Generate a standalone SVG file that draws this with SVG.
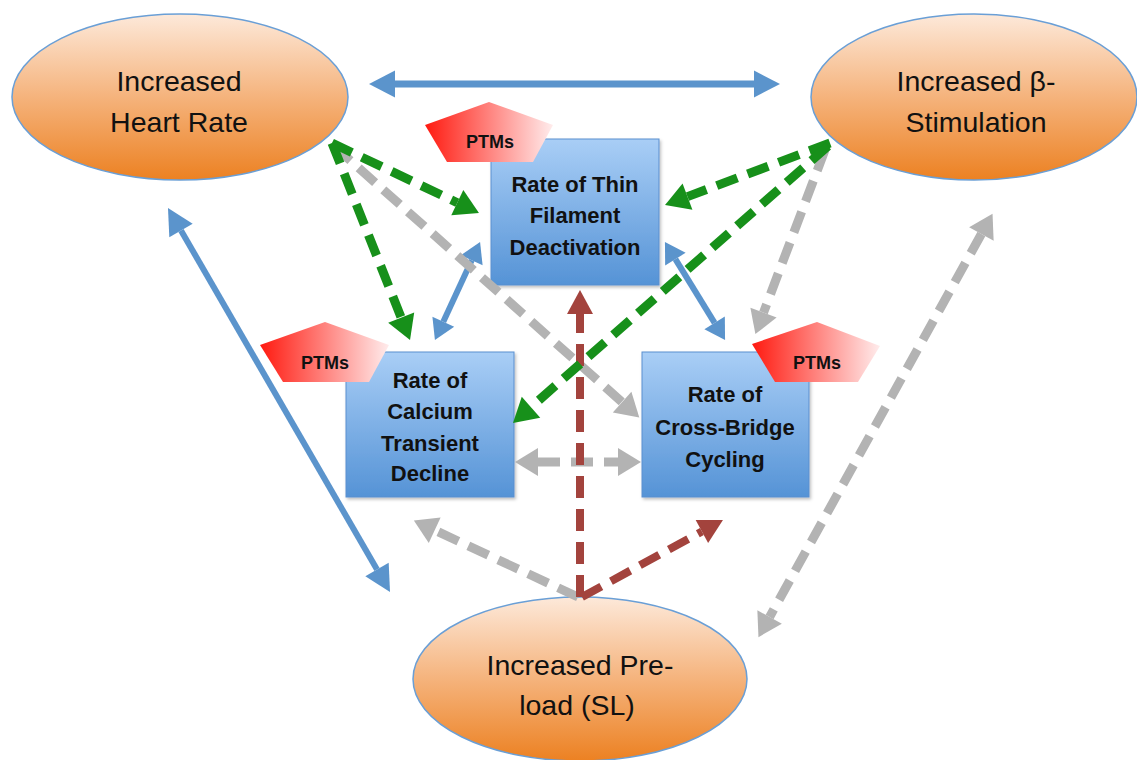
<svg xmlns="http://www.w3.org/2000/svg" width="1137" height="760" viewBox="0 0 1137 760">
<style>
.ell{fill:url(#gOr);stroke:#6a9fd6;stroke-width:1.5}
.box{fill:url(#gBl);stroke:#5a8fcf;stroke-width:1;filter:url(#sh)}
.ptm{fill:url(#gRd)}
.et{font-family:"Liberation Sans",Arial,sans-serif;font-size:28.5px;fill:#111;text-anchor:middle}
.bt{font-family:"Liberation Sans",Arial,sans-serif;font-size:22px;font-weight:bold;fill:#111;text-anchor:middle}
.pt{font-family:"Liberation Sans",Arial,sans-serif;font-size:18px;font-weight:bold;fill:#111;text-anchor:middle}
.blue{stroke:#5b94cc;fill:none}
.green{stroke:#17901a;stroke-width:9;stroke-dasharray:22 11;fill:none}
.gray{stroke:#b3b3b3;stroke-width:9;stroke-dasharray:22 11;fill:none}
.red{stroke:#a3433d;stroke-width:8;stroke-dasharray:22 11;fill:none}
</style>
<defs>
<linearGradient id="gOr" x1="0" y1="0" x2="0" y2="1">
<stop offset="0" stop-color="#fde9da"/>
<stop offset="0.5" stop-color="#f5b37c"/>
<stop offset="1" stop-color="#ec8122"/>
</linearGradient>
<linearGradient id="gBl" x1="0" y1="0" x2="0" y2="1">
<stop offset="0" stop-color="#a9cef6"/>
<stop offset="1" stop-color="#5593d6"/>
</linearGradient>
<linearGradient id="gRd" x1="0" y1="0" x2="1" y2="0">
<stop offset="0" stop-color="#ff1a10"/>
<stop offset="1" stop-color="#ffecec"/>
</linearGradient>
<filter id="sh" x="-10%" y="-10%" width="125%" height="125%">
<feDropShadow dx="1.5" dy="2" stdDeviation="1.5" flood-color="#000" flood-opacity="0.25"/>
</filter>
<marker id="mBlue" markerUnits="userSpaceOnUse" markerWidth="30" markerHeight="30" refX="0" refY="0" orient="auto-start-reverse" overflow="visible">
<path d="M0,-13.5 L26,0 L0,13.5 Z" fill="#5b94cc"/>
</marker>
<marker id="mBlueS" markerUnits="userSpaceOnUse" markerWidth="24" markerHeight="24" refX="0" refY="0" orient="auto-start-reverse" overflow="visible">
<path d="M0,-12 L20,0 L0,12 Z" fill="#5b94cc"/>
</marker>
<marker id="mGreen" markerUnits="userSpaceOnUse" markerWidth="28" markerHeight="28" refX="0" refY="0" orient="auto" overflow="visible">
<path d="M0,-14 L24,0 L0,14 Z" fill="#17901a"/>
</marker>
<marker id="mGray" markerUnits="userSpaceOnUse" markerWidth="28" markerHeight="28" refX="0" refY="0" orient="auto-start-reverse" overflow="visible">
<path d="M0,-14 L23,0 L0,14 Z" fill="#b3b3b3"/>
</marker>
<marker id="mRed" markerUnits="userSpaceOnUse" markerWidth="28" markerHeight="28" refX="0" refY="0" orient="auto" overflow="visible">
<path d="M0,-13 L24,0 L0,13 Z" fill="#a3433d"/>
</marker>
</defs>
<rect width="1137" height="760" fill="#ffffff"/>

<g id="node-heart-rate">
<ellipse class="ell" cx="180" cy="97" rx="168" ry="83"/>
<text class="et" x="179" y="91">Increased</text>
<text class="et" x="179" y="132">Heart Rate</text>
</g>
<g id="node-beta">
<ellipse class="ell" cx="974" cy="97" rx="163" ry="83"/>
<text class="et" x="976" y="91">Increased β-</text>
<text class="et" x="976" y="132">Stimulation</text>
</g>
<g id="node-preload">
<ellipse class="ell" cx="580" cy="679" rx="167" ry="82"/>
<text class="et" x="580" y="675">Increased Pre-</text>
<text class="et" x="577" y="715">load (SL)</text>
</g>
<g id="node-thin">
<rect class="box" x="491" y="139" width="168" height="146"/>
<text class="bt" x="575" y="192">Rate of Thin</text>
<text class="bt" x="575" y="223">Filament</text>
<text class="bt" x="575" y="255">Deactivation</text>
</g>
<g id="node-calcium">
<rect class="box" x="346" y="352" width="168" height="145"/>
<text class="bt" x="430" y="388">Rate of</text>
<text class="bt" x="430" y="419">Calcium</text>
<text class="bt" x="430" y="451">Transient</text>
<text class="bt" x="430" y="481">Decline</text>
</g>
<g id="node-crossbridge">
<rect class="box" x="642" y="352" width="167" height="145"/>
<text class="bt" x="725" y="402">Rate of</text>
<text class="bt" x="725" y="435">Cross-Bridge</text>
<text class="bt" x="725" y="467">Cycling</text>
</g>
<g id="node-ptm-thin">
<polygon class="ptm" points="425,125 489,102 553,125 533,162 447,162"/>
<text class="pt" x="490" y="148">PTMs</text>
</g>
<g id="node-ptm-calcium">
<polygon class="ptm" points="260,345 325,322 389,345 369,382 283,382"/>
<text class="pt" x="325" y="369">PTMs</text>
</g>
<g id="node-ptm-crossbridge">
<polygon class="ptm" points="752,344 817,322 880,346 858,382 775,382"/>
<text class="pt" x="817" y="369">PTMs</text>
</g>

<g id="connectors">
<line class="blue" stroke-width="7" x1="395" y1="84" x2="754" y2="84" marker-start="url(#mBlue)" marker-end="url(#mBlue)"/>
<line class="blue" stroke-width="6" x1="181" y1="230.5" x2="377" y2="569.5" marker-start="url(#mBlue)" marker-end="url(#mBlue)"/>
<line class="blue" stroke-width="6" x1="471.7" y1="260.2" x2="443.3" y2="321.8" marker-start="url(#mBlueS)" marker-end="url(#mBlueS)"/>
<line class="blue" stroke-width="6" x1="675.4" y1="259.1" x2="714.6" y2="322.9" marker-start="url(#mBlueS)" marker-end="url(#mBlueS)"/>

<line class="gray" x1="334" y1="146" x2="622.1" y2="402.1" marker-end="url(#mGray)"/>
<line class="gray" x1="825" y1="150" x2="763.5" y2="312.6" marker-end="url(#mGray)"/>
<line class="gray" x1="538" y1="462" x2="618" y2="462" stroke-dasharray="20 10" marker-start="url(#mGray)" marker-end="url(#mGray)"/>
<line class="gray" x1="578" y1="597" x2="434.7" y2="530.2" marker-end="url(#mGray)"/>
<line class="gray" x1="981.4" y1="234" x2="769.6" y2="617" marker-start="url(#mGray)" marker-end="url(#mGray)"/>

<line class="red" x1="580" y1="597" x2="580" y2="314" marker-end="url(#mRed)"/>
<line class="red" x1="582" y1="597" x2="701.9" y2="531.5" marker-end="url(#mRed)"/>

<line class="green" x1="332" y1="143" x2="457.3" y2="202.7" marker-end="url(#mGreen)"/>
<line class="green" x1="332" y1="143" x2="401.2" y2="317.7" marker-end="url(#mGreen)"/>
<line class="green" x1="830" y1="143" x2="687.5" y2="196.6" marker-end="url(#mGreen)"/>
<line class="green" x1="828" y1="146" x2="531" y2="407.2" marker-end="url(#mGreen)"/>
</g>
</svg>
